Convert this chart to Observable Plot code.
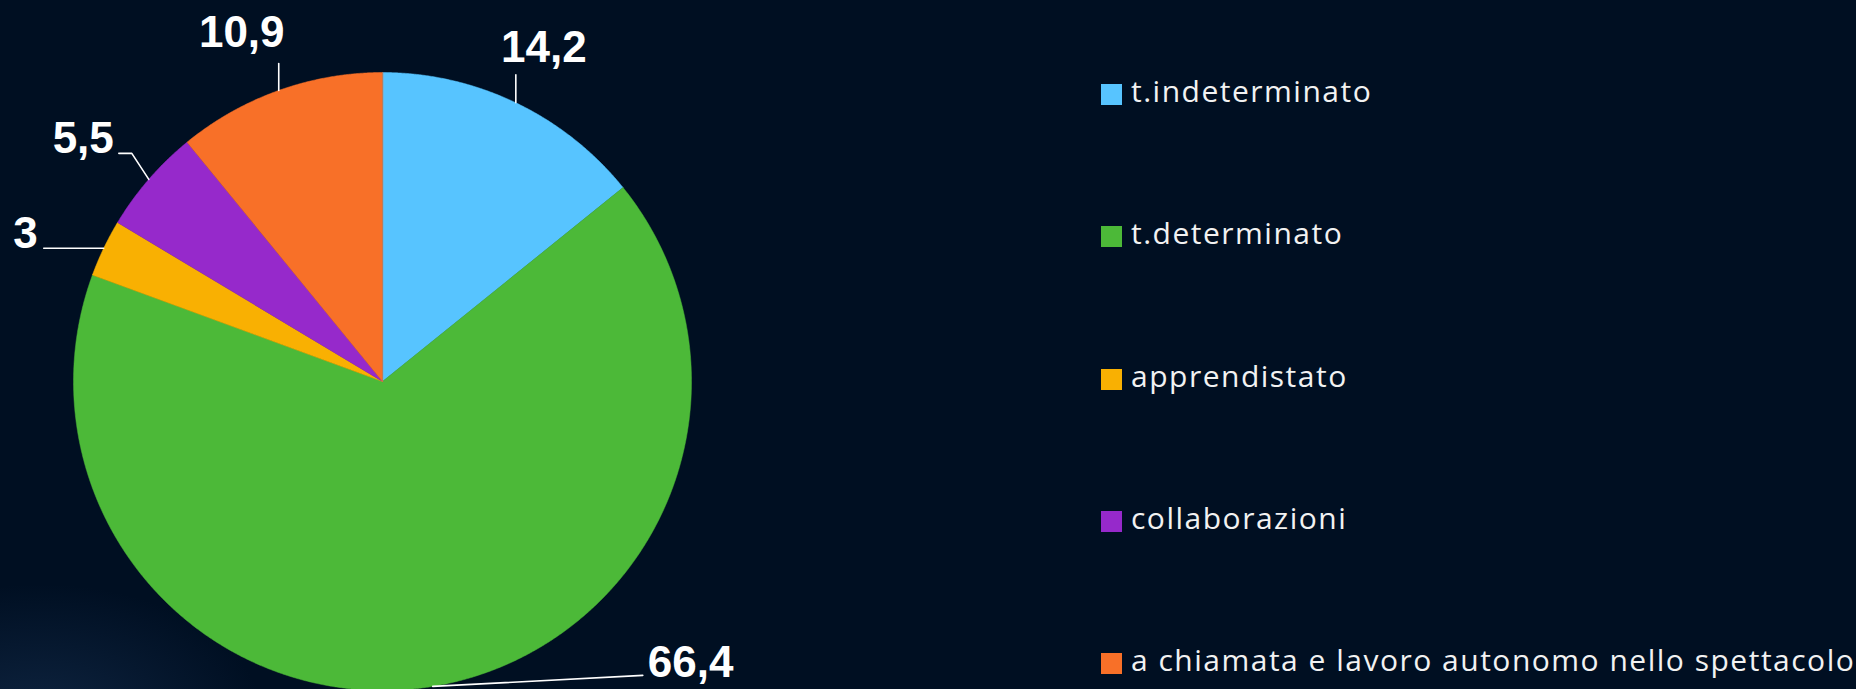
<!DOCTYPE html>
<html><head><meta charset="utf-8">
<script src="https://cdn.jsdelivr.net/npm/d3@7"></script>
<script src="https://cdn.jsdelivr.net/npm/@observablehq/plot@0.6"></script>
<style>
html,body{margin:0;padding:0;}
body{width:1856px;height:689px;overflow:hidden;background:#000f22;position:relative;}
#bg{position:absolute;left:0;top:0;width:1856px;height:689px;background:radial-gradient(ellipse 280px 170px at 40px 720px, rgba(40,75,120,0.35), rgba(0,15,34,0) 80%);}
#chart{position:absolute;left:0;top:0;}
#legend{position:absolute;left:1101px;top:0;font-family:"Open Sans",sans-serif;color:#f2f2f2;}
.item{position:absolute;left:0;height:21px;white-space:nowrap;}
.sw{position:absolute;left:0;top:0;width:21px;height:21px;}
.lt{position:absolute;left:30px;bottom:-1px;font-size:30px;line-height:1;letter-spacing:1.5px;}
</style></head><body>
<div id="bg"></div><div id="chart"></div><div id="legend"></div>
<script>
// ---- data ----
const categories = ["t.indeterminato", "t.determinato", "apprendistato", "collaborazioni", "a chiamata e lavoro autonomo nello spettacolo"];
const values = [14.2, 66.4, 3, 5.5, 10.9];
const valueLabels = ["14,2", "66,4", "3", "5,5", "10,9"];
const colors = ["#57c4ff", "#4cb938", "#f9b002", "#9629cb", "#f87028"];

// ---- layout ----
const W = 1856, H = 689, CX = 382, CY = 381, R = 309;
const labelLayout = [ // pixel offsets from the slice's outer mid point
  {bends: [[0, -28]], text: [28, -41], anchor: "middle"},
  {bends: [[210, -11]], text: [215, -9], anchor: "start"},
  {bends: [[-60, 0]], text: [-66, 0], anchor: "end"},
  {bends: [[-17, -26], [-30, -26]], text: [-35, -26], anchor: "end"},
  {bends: [[0, -27]], text: [-37, -43], anchor: "middle"}
];

const arcs = d3.pie().sort(null).value(d => d)(values);
const slicePts = [], leaderPts = [], labelPts = [];
arcs.forEach((a, i) => {
  const cat = categories[i];
  slicePts.push({cat, x: 0, y: 0});
  const n = Math.max(4, Math.ceil((a.endAngle - a.startAngle) / 0.004));
  for (let k = 0; k <= n; k++) {
    const t = a.startAngle + (a.endAngle - a.startAngle) * k / n;
    slicePts.push({cat, x: Math.sin(t), y: Math.cos(t)});
  }
  const m = (a.startAngle + a.endAngle) / 2;
  const ex = Math.sin(m), ey = Math.cos(m);
  const L = labelLayout[i];
  leaderPts.push({cat, x: ex, y: ey});
  L.bends.forEach(([dx, dy]) => leaderPts.push({cat, x: ex + dx / R, y: ey - dy / R}));
  labelPts.push({text: valueLabels[i], x: ex + L.text[0] / R, y: ey - L.text[1] / R, anchor: L.anchor});
});

const chart = Plot.plot({
  width: W, height: H, margin: 0,
  x: {domain: [-1, 1], range: [CX - R, CX + R], axis: null},
  y: {domain: [-1, 1], range: [CY + R, CY - R], axis: null},
  color: {domain: categories, range: colors},
  style: {background: "transparent", overflow: "visible"},
  marks: [
    Plot.line(slicePts, {x: "x", y: "y", z: "cat", fill: "cat", stroke: "cat", strokeWidth: 0.5, curve: "linear-closed"}),
    Plot.line(leaderPts, {x: "x", y: "y", z: "cat", stroke: "white", strokeWidth: 1.6}),
    ...["start", "middle", "end"].map(an => Plot.text(labelPts.filter(d => d.anchor === an), {
      x: "x", y: "y", text: "text", textAnchor: an, lineAnchor: "bottom",
      fill: "white", fontSize: 44, fontWeight: "bold", fontFamily: "Liberation Sans, Arial, sans-serif"
    }))
  ]
});
document.getElementById("chart").appendChild(chart);

// legend
const legend = document.getElementById("legend");
categories.forEach((c, i) => {
  const item = document.createElement("div");
  item.className = "item";
  item.style.top = (84 + i * 142.25) + "px";
  const sw = document.createElement("div");
  sw.className = "sw";
  sw.style.background = colors[i];
  const t = document.createElement("div");
  t.className = "lt";
  t.textContent = c;
  item.appendChild(sw); item.appendChild(t);
  legend.appendChild(item);
});
</script>
</body></html>
